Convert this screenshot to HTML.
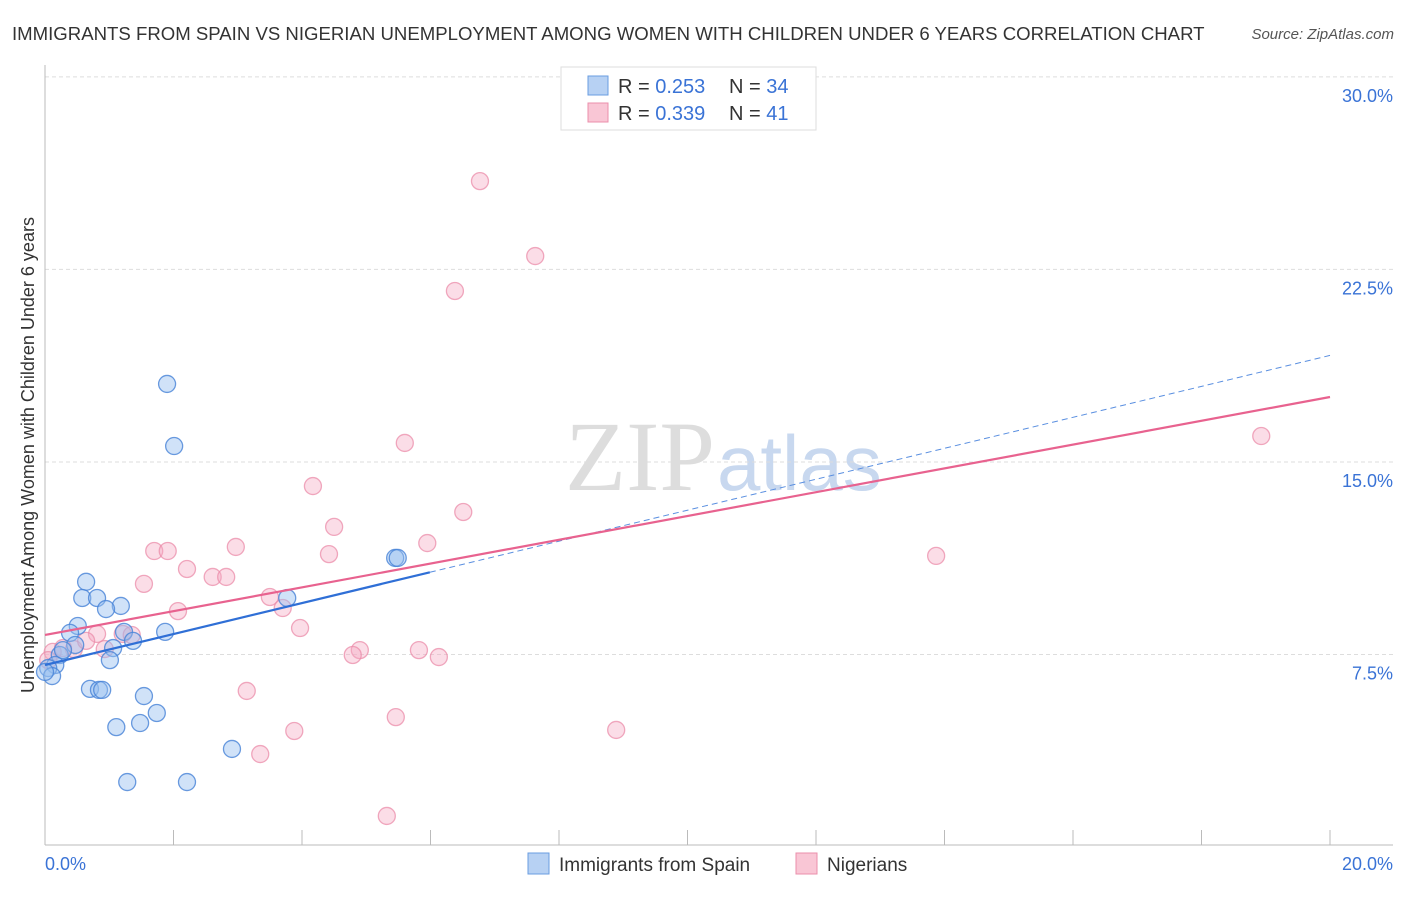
<!DOCTYPE html>
<html><head><meta charset="utf-8"><style>
body{margin:0;background:#fff;font-family:"Liberation Sans",sans-serif}
svg text{font-family:"Liberation Sans",sans-serif}
</style></head><body>
<svg id="chart" width="1406" height="892">
<text x="12" y="40" font-size="18.6" fill="#333">IMMIGRANTS FROM SPAIN VS NIGERIAN UNEMPLOYMENT AMONG WOMEN WITH CHILDREN UNDER 6 YEARS CORRELATION CHART</text>
<text x="1394" y="39" font-size="15" fill="#555" font-style="italic" text-anchor="end">Source: ZipAtlas.com</text>
<text x="715" y="490" font-size="100" fill="#ddd" text-anchor="end" style="font-family:'Liberation Serif',serif">ZIP</text>
<text x="717" y="490" font-size="78" fill="#c8d8ef">atlas</text>
<text transform="translate(34,455) rotate(-90)" font-size="18" fill="#333" text-anchor="middle">Unemployment Among Women with Children Under 6 years</text>
<g id="grid"></g><g id="marks"></g>
<g>
<rect x="561" y="67" width="255" height="63" fill="#fff" stroke="#ddd"/>
<rect x="588" y="76" width="20" height="19" fill="#b7d1f3" stroke="#6a9de0"/>
<rect x="588" y="103" width="20" height="19" fill="#f9c6d5" stroke="#eb8fab"/>
<text x="618" y="93" font-size="20" fill="#333">R = <tspan fill="#3a73d6">0.253</tspan></text>
<text x="729" y="93" font-size="20" fill="#333">N = <tspan fill="#3a73d6">34</tspan></text>
<text x="618" y="120" font-size="20" fill="#333">R = <tspan fill="#3a73d6">0.339</tspan></text>
<text x="729" y="120" font-size="20" fill="#333">N =  <tspan fill="#3a73d6">41</tspan></text>
</g>
<g>
<rect x="528" y="853" width="21" height="21" fill="#b7d1f3" stroke="#6a9de0"/>
<text x="559" y="871" font-size="19" fill="#333">Immigrants from Spain</text>
<rect x="796" y="853" width="21" height="21" fill="#f9c6d5" stroke="#eb8fab"/>
<text x="827" y="871" font-size="19" fill="#333">Nigerians</text>
</g>
</svg>
<script>
const spainX=[1.90,2.01,0.64,0.58,0.81,1.18,0.95,0.51,0.39,1.23,1.87,1.37,1.06,0.47,1.01,0.23,0.16,0.05,0.11,0.00,0.70,0.84,1.54,1.74,1.11,1.48,2.91,1.28,2.21,5.45,5.49,3.77,0.28,0.89];
const spainY=[18.04,15.62,10.33,9.70,9.70,9.39,9.27,8.61,8.34,8.38,8.38,8.03,7.75,7.87,7.28,7.48,7.09,6.97,6.66,6.82,6.16,6.12,5.88,5.22,4.67,4.83,3.82,2.53,2.53,11.26,11.26,9.70,7.67,6.12];
const nigX=[6.77,7.63,6.38,18.93,5.60,4.17,4.50,6.51,1.70,1.91,2.97,4.42,5.95,13.87,2.21,2.61,2.82,1.54,3.50,2.07,3.70,3.97,0.81,1.21,1.35,0.45,0.93,4.90,4.79,5.82,6.13,0.12,0.28,0.64,3.14,5.46,3.88,8.89,3.35,5.32,0.05];
const nigY=[25.94,23.02,21.66,16.01,15.74,14.06,12.47,13.05,11.53,11.53,11.69,11.41,11.84,11.34,10.83,10.52,10.52,10.25,9.74,9.19,9.31,8.53,8.30,8.30,8.26,7.71,7.71,7.67,7.48,7.67,7.40,7.60,7.75,8.03,6.08,5.06,4.52,4.56,3.62,1.21,7.28];
const yTicks=[7.5,15,22.5,30];
const yTickLabels=["7.5%","15.0%","22.5%","30.0%"];
const xTicks=[0,2,4,6,8,10,12,14,16,18,20];
const spainTrend=[7.09,0.603];
const nigTrend=[8.26,0.4635];
const NS="http://www.w3.org/2000/svg";
const X=v=>45+v*64.25, Y=v=>847-v*25.67;
const grid=document.getElementById('grid'), marks=document.getElementById('marks');
function mk(tag,attrs,parent){const e=document.createElementNS(NS,tag);for(const k in attrs)e.setAttribute(k,attrs[k]);parent.appendChild(e);return e;}
yTicks.forEach((t,i)=>{
 const l=mk('line',{x1:45,x2:1393,y1:Y(t),y2:Y(t),stroke:'#ddd','stroke-dasharray':'4,3'},grid);
 
 
 const tx=mk('text',{x:1393,y:Y(t)+25,'font-size':18,fill:'#3a73d6','text-anchor':'end'},grid);
 tx.textContent=yTickLabels[i];
 
 
});
const ax=mk('line',{x1:45,x2:45,y1:65,y2:845,stroke:'#bbb'},grid);


const bx=mk('line',{x1:45,x2:1393,y1:845,y2:845,stroke:'#bbb'},grid);


xTicks.forEach(t=>{
 const l=mk('line',{x1:X(t),x2:X(t),y1:830,y2:845,stroke:'#bbb'},grid);
 
 
});
[[0,"0.0%","start",45],[20,"20.0%","end",1393]].forEach(d=>{
 const tx=mk('text',{x:d[3],y:870,'font-size':18,fill:'#3a73d6','text-anchor':d[2]},grid);
 tx.textContent=d[1];
 
 
});
nigX.forEach((x,i)=>{
 const c=mk('circle',{cx:X(x),cy:Y(nigY[i]),r:8.5,fill:'rgba(246,170,195,0.4)',stroke:'rgba(235,140,170,0.75)','stroke-width':1.3},marks);
 
 
});
spainX.forEach((x,i)=>{
 const c=mk('circle',{cx:X(x),cy:Y(spainY[i]),r:8.5,fill:'rgba(150,190,240,0.45)',stroke:'rgba(70,130,215,0.8)','stroke-width':1.3},marks);
 
 
});
const sMaxX=Math.max(...spainX);
let l1=mk('line',{x1:X(0),y1:Y(spainTrend[0]),x2:X(sMaxX+0.5),y2:Y(spainTrend[0]+spainTrend[1]*(sMaxX+0.5)),stroke:'#2f6fd6','stroke-width':2.2},marks);


let l2=mk('line',{x1:X(sMaxX+0.5),y1:Y(spainTrend[0]+spainTrend[1]*(sMaxX+0.5)),x2:X(20),y2:Y(spainTrend[0]+spainTrend[1]*20),stroke:'#5a8fe0','stroke-width':1,'stroke-dasharray':'6,4'},marks);


let l3=mk('line',{x1:X(0),y1:Y(nigTrend[0]),x2:X(20),y2:Y(nigTrend[0]+nigTrend[1]*20),stroke:'#e8628f','stroke-width':2.2},marks);


</script>
</body></html>
